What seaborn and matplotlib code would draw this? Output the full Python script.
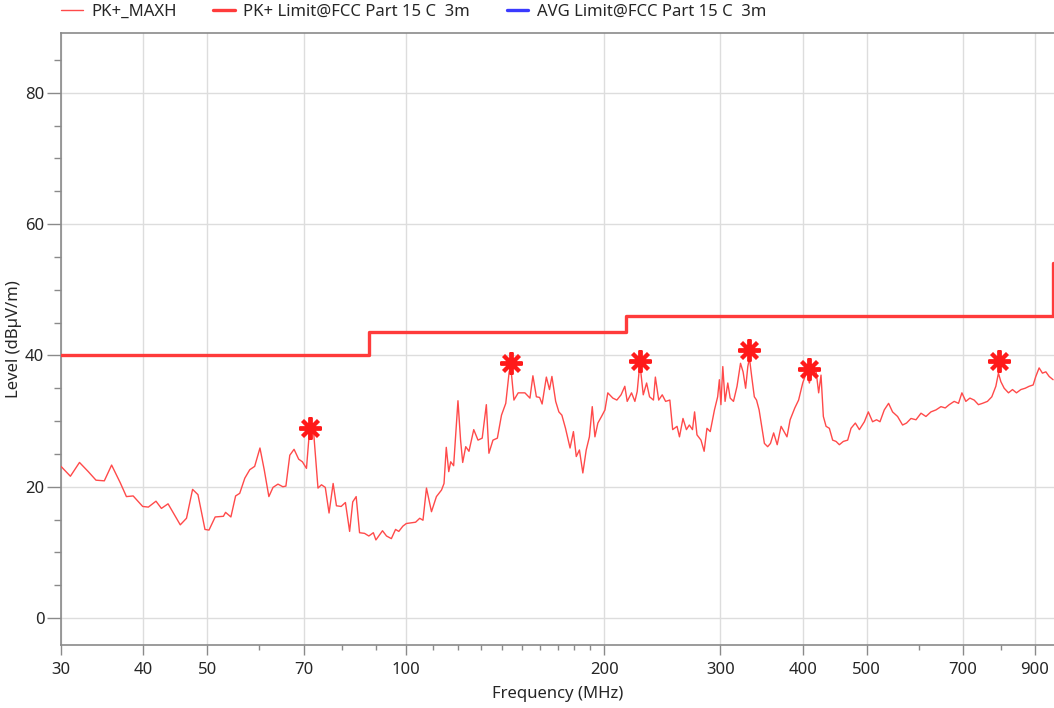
import numpy as np
import pandas as pd
import seaborn as sns
import matplotlib
matplotlib.use("Agg")
import matplotlib.pyplot as plt
from matplotlib.ticker import FixedLocator, NullFormatter

# ---- data ----
trace_freq = [
    30.0, 31.0, 32.0, 33.0, 33.9, 34.9, 35.8, 36.9, 37.7, 38.6, 39.9, 40.7, 41.8, 42.6, 43.6,
    45.5, 46.5, 47.5, 48.4, 49.6, 50.3, 51.4, 52.9, 53.3, 54.3, 55.2, 56.0, 57.0, 58.0, 59.0,
    60.1, 61.0, 62.0, 62.9, 64.0, 65.1, 65.8, 66.7, 67.7, 68.8, 69.7, 70.7, 71.5, 72.5, 73.6,
    74.5, 75.5, 76.5, 77.6, 78.5, 79.8, 81.0, 82.2, 83.1, 84.1, 85.1, 86.6, 87.9, 89.3, 90.1,
    92.2, 93.5, 95.1, 96.5, 97.6, 99.0, 100.2, 103.5, 105.0, 106.2, 107.5, 109.4, 111.3, 113.3,
    114.3, 115.2, 116.2, 117.0, 118.2, 120.0, 121.1, 122.0, 123.3, 124.7, 126.8, 128.7, 130.6,
    132.5, 133.7, 135.6, 137.7, 139.7, 141.8, 143.5, 144.3, 145.9, 148.1, 151.6, 154.3, 155.9,
    157.8, 159.6, 161.0, 163.4, 165.2, 166.6, 168.8, 170.7, 172.5, 174.7, 177.5, 179.6, 181.4,
    183.4, 185.6, 187.8, 189.9, 191.8, 193.6, 195.6, 198.1, 200.5, 202.5, 206.1, 209.0, 212.1,
    214.9, 216.7, 220.0, 222.6, 224.4, 226.5, 229.2, 231.9, 234.3, 237.5, 239.1, 241.9, 244.9,
    247.8, 251.5, 254.0, 257.9, 260.1, 263.3, 266.5, 269.2, 272.2, 274.2, 276.5, 280.4, 283.5,
    286.3, 289.6, 293.9, 297.2, 299.0, 300.6, 302.6, 305.0, 307.9, 310.5, 314.1, 318.0, 321.9,
    324.8, 327.7, 330.2, 332.1, 334.7, 337.8, 340.4, 343.5, 346.6, 349.9, 353.9, 357.4, 361.4,
    365.9, 370.9, 378.6, 382.8, 389.1, 394.3, 400.0, 405.6, 409.4, 414.1, 419.2, 422.9, 426.4,
    429.9, 434.0, 439.0, 444.1, 449.4, 454.6, 460.9, 468.0, 473.5, 480.7, 487.5, 496.1, 503.0,
    510.5, 517.7, 523.9, 531.8, 539.9, 547.4, 557.1, 566.9, 574.8, 583.8, 594.1, 604.6, 615.1,
    625.9, 637.0, 648.2, 658.0, 667.2, 678.9, 689.2, 697.4, 707.1, 717.1, 727.9, 738.9, 749.3,
    762.5, 774.2, 785.2, 792.3, 799.1, 808.4, 820.6, 832.2, 843.8, 856.9, 869.8, 882.1, 894.4,
    902.8, 913.3, 923.9, 935.0, 945.8, 959.0,
]
trace_level = [
    23.1, 21.6, 23.7, 22.3, 21.0, 20.9, 23.3, 20.6, 18.5, 18.6, 17.0, 16.9, 17.8, 16.7, 17.4,
    14.2, 15.2, 19.6, 18.8, 13.5, 13.4, 15.4, 15.5, 16.1, 15.4, 18.6, 19.0, 21.3, 22.6, 23.1,
    25.9, 22.6, 18.5, 19.9, 20.4, 20.0, 20.1, 24.8, 25.7, 24.2, 23.8, 22.8, 28.9, 28.2, 19.8,
    20.3, 19.9, 16.0, 20.5, 17.1, 17.0, 17.6, 13.2, 17.7, 18.5, 13.0, 12.9, 12.5, 13.0, 11.9,
    13.3, 12.5, 12.1, 13.5, 13.2, 14.0, 14.4, 14.6, 15.2, 14.9, 19.8, 16.2, 18.5, 19.5,
    20.5, 26.0, 22.3, 23.8, 23.2, 33.1, 27.1, 23.7, 26.1, 25.4, 28.7, 27.1, 27.4,
    32.5, 25.1, 27.1, 27.4, 30.9, 32.7, 37.5, 38.3, 33.2, 34.3, 34.3, 33.5, 36.9,
    33.7, 33.6, 32.6, 36.7, 34.8, 36.8, 33.0, 31.4, 30.9, 28.9, 25.9, 28.4, 24.6,
    25.6, 22.1, 25.6, 27.6, 32.2, 27.6, 29.7, 30.7, 31.7, 34.3, 33.5, 33.2, 34.0,
    35.3, 33.0, 34.3, 33.0, 34.5, 38.8, 34.0, 35.8, 33.7, 33.2, 36.7, 33.2, 34.0,
    33.0, 33.2, 28.7, 29.2, 27.6, 30.4, 28.7, 29.4, 28.7, 31.4, 27.9, 27.1, 25.4,
    28.9, 28.4, 31.7, 33.7, 36.3, 32.5, 38.3, 33.0, 35.8, 33.5, 33.0, 35.3, 38.8,
    37.5, 35.0, 38.3, 39.6, 36.8, 33.7, 33.2, 31.7, 29.2, 26.6, 26.1, 26.6, 28.2,
    26.4, 29.2, 27.6, 30.2, 32.0, 33.2, 35.8, 37.5, 35.8, 37.8, 37.5, 34.3, 37.0,
    30.7, 29.2, 28.9, 27.1, 26.9, 26.4, 26.9, 27.1, 28.9, 29.7, 28.7, 29.9, 31.4,
    29.9, 30.2, 29.9, 31.7, 32.7, 31.4, 30.7, 29.4, 29.7, 30.4, 30.2, 31.2, 30.7,
    31.4, 31.7, 32.2, 32.0, 32.5, 33.0, 32.7, 34.3, 33.0, 33.5, 33.2, 32.5, 32.7,
    33.0, 33.7, 35.3, 37.3, 36.0, 35.0, 34.3, 34.8, 34.3, 34.8, 35.0, 35.3, 35.5,
    36.8, 38.1, 37.3, 37.5, 36.8, 36.3,
]
limit_freq = [30, 88, 216, 960, 1000]
limit_level = [40, 43.5, 46, 54, 54]
peak_freq = [71.5, 144.3, 226.5, 332.1, 409.4, 794.3]
peak_level = [28.9, 38.9, 39.2, 40.9, 37.9, 39.1]

x_major = [30, 40, 50, 70, 100, 200, 300, 400, 500, 700, 900]
x_minor = [60, 80, 90, 110, 120, 130, 140, 150, 160, 170, 180, 190, 600, 800]
y_major = [0, 20, 40, 60, 80]
y_minor = [5, 10, 15, 25, 30, 35, 45, 50, 55, 65, 70, 75, 85]

# ---- style ----
sns.set_theme(style="white")
plt.rcParams["font.family"] = ["Noto Sans", "DejaVu Sans"]
TXT = "#262626"
GRAY = "#8a8a8a"
FS = 12

fig = plt.figure(figsize=(10.54, 7.08), dpi=100)
ax = fig.add_axes([61 / 1054, 1 - 645 / 708, 1 - 61 / 1054, (645 - 33) / 708])

trace = pd.DataFrame({"freq": trace_freq, "level": trace_level})
limit = pd.DataFrame({"freq": limit_freq, "level": limit_level})
peaks = pd.DataFrame({"freq": peak_freq, "level": peak_level})

sns.lineplot(data=trace, x="freq", y="level", ax=ax, sort=False, estimator=None,
             color="#ff4a4a", linewidth=1.0, label="PK+_MAXH", zorder=3)
sns.lineplot(data=limit, x="freq", y="level", ax=ax, sort=False, estimator=None,
             drawstyle="steps-post", color="#ff3b3b", linewidth=2.4,
             label="PK+ Limit@FCC Part 15 C  3m", zorder=4)
ax.plot([], [], color="#3a3aff", linewidth=2.4, label="AVG Limit@FCC Part 15 C  3m")
ax.plot(peaks["freq"], peaks["level"], linestyle="none", marker=(8, 2, 0),
        markersize=16, markeredgewidth=2.8, color="#ff1a1a", zorder=5)

ax.set_xscale("log")
ax.set_xlim(30, 962)
ax.set_ylim(-4.1, 89.1)

ax.xaxis.set_major_locator(FixedLocator(x_major))
ax.xaxis.set_minor_locator(FixedLocator(x_minor))
ax.set_xticklabels([str(v) for v in x_major])
ax.xaxis.set_minor_formatter(NullFormatter())
ax.yaxis.set_major_locator(FixedLocator(y_major))
ax.yaxis.set_minor_locator(FixedLocator(y_minor))

ax.grid(True, which="major", color="#dddddd", linewidth=1.0, zorder=0)
ax.set_axisbelow(True)

ax.tick_params(axis="x", which="major", length=7, width=1, color=GRAY, pad=5,
               labelsize=FS, labelcolor=TXT, bottom=True)
ax.tick_params(axis="x", which="minor", length=3.5, width=1, color=GRAY, bottom=True)
ax.tick_params(axis="y", which="major", length=10, width=1, color=GRAY, pad=2,
               labelsize=FS, labelcolor=TXT, left=True)
ax.tick_params(axis="y", which="minor", length=5, width=1, color=GRAY, left=True)

for side in ["left", "bottom", "top"]:
    ax.spines[side].set_color(GRAY)
    ax.spines[side].set_linewidth(1.2)
ax.spines["right"].set_visible(False)

ax.set_xlabel("Frequency (MHz)", fontsize=FS, color=TXT, labelpad=6)
ax.set_ylabel("Level (dBµV/m)", fontsize=FS, color=TXT, labelpad=2)

ax.get_legend().remove()
handles, labels = ax.get_legend_handles_labels()
fig.legend(handles, labels, loc="upper left", bbox_to_anchor=(61 / 1054, 1 - 4 / 708), ncol=3,
           frameon=False, fontsize=FS, handlelength=1.3, handletextpad=0.5,
           columnspacing=2.2, labelcolor=TXT, borderpad=0, borderaxespad=0)

fig.savefig("out.png", dpi=100)
